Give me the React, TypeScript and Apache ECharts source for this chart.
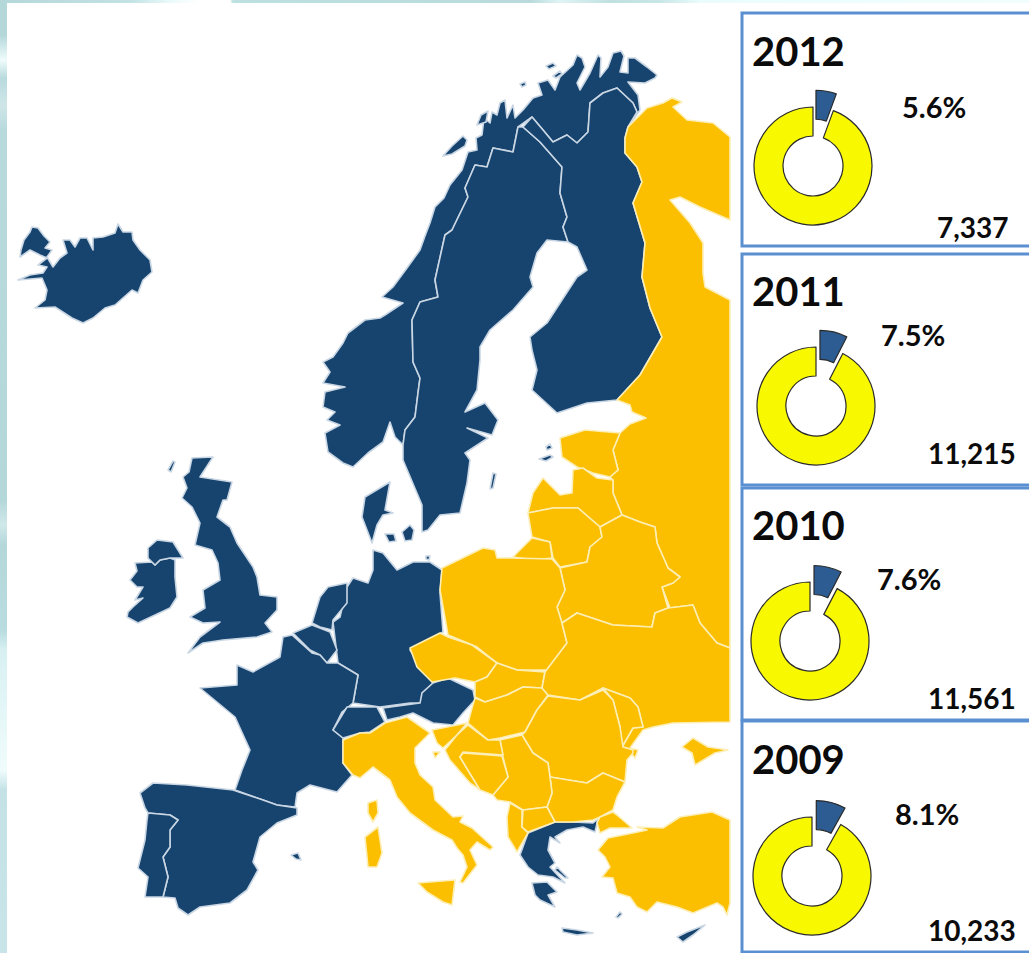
import React, { useEffect, useRef } from "react";
import * as echarts from "echarts";

const years = ["2012", "2011", "2010", "2009"];
const shares = [5.6, 7.5, 7.6, 8.1];
const totals = ["7,337", "11,215", "11,561", "10,233"];

const iceland = "20,257 21,250 24,240 30,232 32,227 38,228 44,236 50,242 45,248 52,250 47,257 53,267 60,258 67,253 63,240 70,240 75,247 80,238 87,238 93,250 93,238 103,237 115,233 118,224 123,232 132,232 133,240 140,250 150,260 152,272 143,280 138,293 132,290 115,305 105,308 93,318 83,323 72,318 55,307 35,308 45,300 47,290 42,278 18,280 30,275 43,273 47,267 38,265 47,258 40,255 30,250";
const norway = "628,82 645,83 655,78 657,75 647,67 635,58 628,58 628,73 620,72 624,56 621,51 613,53 608,67 600,77 601,58 598,55 590,73 580,90 577,83 585,67 582,58 577,55 573,65 560,77 555,90 548,80 538,83 542,95 533,98 523,110 515,118 513,105 507,118 505,100 500,103 497,115 492,112 490,123 484,118 482,135 476,138 477,150 468,152 462,170 450,185 444,198 435,207 430,223 425,236 420,250 407,268 393,287 382,297 403,303 385,315 380,318 365,320 348,333 343,343 333,357 323,362 330,372 323,383 345,387 325,392 323,407 335,412 327,420 340,425 325,433 328,452 343,463 353,467 368,453 383,442 390,422 395,437 403,445 405,430 415,417 418,393 420,378 413,362 412,320 420,302 438,297 435,280 445,235 452,230 468,197 465,188 475,165 487,167 493,148 513,152 518,127 532,117 543,130 553,142 567,135 577,143 588,132 590,103 603,93 617,88 633,103 637,112 628,127 640,110 638,95";
const sweden = "523,127 540,142 562,167 560,193 567,217 563,227 568,242 547,240 537,253 530,277 533,287 513,310 490,330 480,347 480,360 477,390 465,412 485,403 498,420 492,435 467,428 488,438 465,453 470,460 467,483 460,513 440,515 428,530 422,532 422,505 403,460 403,445 405,430 415,417 418,393 420,378 413,362 412,320 420,302 438,297 435,280 445,235 452,230 468,197 465,188 475,165 487,167 493,148 513,152 518,127";
const finland = "523,127 532,117 543,130 553,142 567,135 577,143 588,132 590,103 603,93 617,88 633,103 637,112 628,127 625,138 625,153 637,167 642,182 633,203 645,243 642,277 650,308 662,337 640,375 617,400 587,403 557,413 532,390 537,370 532,350 530,337 547,323 577,277 587,270 577,247 568,242 563,227 567,217 560,193 562,167 540,142";
const denmark = "390,482 385,510 393,513 383,515 377,525 372,543 362,517 365,497";
const zealand = "402,532 410,525 414,530 412,540 405,541";
const funen = "385,534 394,534 396,541 389,542";
const gotland = "493,473 496,474 493,488 490,489";
const saaremaa = "539,459 550,455 553,457 546,461";
const hiiumaa = "546,447 550,444 552,448 547,450";
const bornholm = "426,556 430,556 429,560 426,559";
const russia = "628,127 647,108 663,103 672,98 682,102 673,107 687,120 713,123 730,137 730,220 700,207 680,197 670,200 690,223 703,243 703,273 705,287 730,300 730,648 717,643 700,623 693,605 670,608 662,587 673,583 680,577 668,568 657,543 655,527 640,522 622,515 613,493 613,480 610,477 618,470 613,450 620,433 630,424 646,418 632,412 630,405 617,400 640,375 662,337 650,308 642,277 645,243 633,203 642,182 637,167 625,153 625,138";
const estonia = "560,438 585,430 620,433 613,450 618,470 610,477 593,473 577,467 562,457";
const latvia = "573,470 572,493 560,495 543,478 533,493 528,513 553,508 578,508 600,527 622,515 613,493 613,480 597,478 583,468";
const lithuania = "528,513 532,537 550,542 553,558 560,567 587,562 590,547 602,537 600,527 578,508 553,508";
const kaliningrad = "513,557 532,538 550,542 552,558 533,560";
const belarus = "560,568 587,562 590,547 602,537 600,527 622,515 640,522 655,527 657,543 668,568 680,577 673,583 662,587 668,608 655,613 652,627 613,625 577,613 562,623 557,607 565,590";
const poland = "442,568 483,548 495,550 497,558 511,558 552,559 560,568 565,590 557,607 562,623 567,643 547,670 517,670 497,663 477,647 470,644 448,635 440,590";
const germany = "373,550 373,570 368,583 353,578 347,587 340,617 333,622 338,663 358,675 353,703 380,707 410,703 422,703 422,693 433,683 410,650 443,632 440,593 442,570 430,562 413,562 397,570 383,553";
const netherlands = "328,587 347,583 347,603 333,620 332,630 320,627 312,623 320,597";
const belgium = "293,633 312,625 330,632 337,650 327,663 320,655 310,650";
const france = "283,637 292,635 312,653 320,655 327,663 338,663 358,675 353,703 342,712 333,730 343,738 343,763 352,775 337,792 310,785 297,793 295,807 277,805 263,800 235,790 242,770 250,750 235,717 200,688 237,685 237,665 253,672 280,657";
const switzerland = "333,730 347,707 377,707 385,722 370,732 360,733 343,738";
const austria = "383,708 420,703 422,693 433,683 448,678 473,690 475,700 463,713 453,725 433,723 413,713 400,717 387,720";
const italy = "343,740 360,733 370,733 385,723 407,717 430,733 415,748 415,763 420,775 433,787 435,800 453,817 463,816 460,822 472,828 493,847 490,850 477,842 470,850 477,865 463,883 460,882 467,867 463,855 457,848 452,840 433,830 410,813 397,797 390,780 373,767 360,778 353,775 343,763";
const sicily = "418,883 430,882 455,880 452,905 443,902 427,892";
const sardinia = "365,837 378,827 382,853 377,867 368,867";
const corsica = "368,803 377,800 378,813 373,822 368,813";
const spain = "140,793 153,783 187,785 233,790 263,800 277,805 297,808 297,815 277,823 260,837 253,862 258,870 247,890 230,903 200,907 188,915 178,908 175,898 163,897 168,877 163,857 170,847 170,830 178,820 170,815 148,813 145,808";
const portugal = "148,813 170,815 178,820 170,830 170,847 163,857 168,877 163,897 145,897 148,877 138,868 145,840 147,820";
const majorca = "291,855 298,853 301,860 296,859";
const ireland = "128,612 133,607 143,598 135,600 143,587 137,587 130,580 137,571 135,563 152,562 148,558 155,565 160,560 170,558 175,560 175,577 177,597 170,608 138,623 127,617";
const ulster = "148,548 157,540 173,542 183,558 170,558 160,560 155,565 148,558";
const britain = "192,458 213,457 200,477 232,482 227,500 223,500 217,517 230,527 237,543 253,567 257,577 260,595 277,597 277,610 265,623 272,632 257,637 223,640 203,643 188,653 200,637 220,622 203,623 190,617 205,608 203,590 220,580 218,563 212,550 195,545 200,523 192,507 182,498 187,488 183,477 189,472";
const hebrides = "168,470 173,461 175,462 171,472";
const lofoten = "443,156 452,146 463,136 467,140 465,146 452,154";
const senja = "477,125 481,115 488,111 486,122";
const northIsle1 = "546,66 553,63 556,66 549,69";
const northIsle2 = "553,76 560,71 562,74 556,78";
const northIsle3 = "520,84 525,82 526,85 522,87";
const czechia = "410,648 440,633 448,637 472,645 497,663 487,677 475,682 455,678 432,682 417,667";
const slovakia = "497,663 517,670 545,672 542,688 523,687 507,695 485,702 475,697 475,682 487,677";
const hungary = "475,698 485,702 507,695 523,687 542,688 548,695 537,710 525,732 500,738 488,740 468,723 472,708";
const ukraine = "567,643 562,623 577,613 613,625 652,627 655,613 668,608 693,605 700,623 717,643 730,648 730,722 673,723 653,727 643,730 630,748 638,750 635,758 627,748 622,747 633,728 643,727 638,707 630,698 603,688 580,700 548,695 542,688 545,672";
const crimea = "682,747 693,738 708,747 728,750 715,753 695,765 692,753";
const moldova = "603,688 630,698 638,707 643,727 633,728 622,747 620,727 613,700";
const romania = "548,696 580,700 603,690 613,700 620,727 623,747 633,750 633,753 627,760 625,782 603,773 587,783 550,777 548,763 533,753 522,735 525,732 537,710";
const bulgaria = "550,777 587,783 603,773 625,782 617,797 613,810 600,817 593,820 573,822 555,822 547,807 552,793";
const serbia = "500,740 522,735 533,753 548,763 550,777 552,793 547,807 523,810 510,802 497,800 493,795 508,777 503,757";
const slovenia = "432,730 467,723 457,735 443,748 437,743";
const croatia = "468,725 488,740 500,740 503,755 463,752 460,757 480,790 470,783 450,760 445,750 457,735";
const istria = "433,752 440,752 435,758";
const bosnia = "463,753 502,756 508,777 493,795 480,790 460,757";
const albania = "510,803 522,810 522,827 528,833 517,852 508,837 507,817";
const macedonia = "523,810 547,807 555,822 528,832 522,827";
const greece = "528,833 555,822 573,822 593,823 598,819 595,832 583,827 567,830 555,837 560,843 550,837 548,850 555,863 550,867 565,883 553,877 538,875 528,867 520,855";
const peloponnese = "532,883 547,882 557,892 548,895 555,907 540,900 535,895";
const crete = "562,928 577,930 593,933 577,935 563,932";
const cyprus = "677,937 687,932 705,925 693,935 683,942";
const euboea = "557,867 568,878 565,878 555,870";
const rhodes = "616,917 620,912 622,914 618,918";
const thrace = "600,817 613,812 617,815 632,828 610,828 600,833 597,823";
const anatolia = "598,850 608,838 633,833 647,830 637,827 663,828 680,817 712,812 730,820 730,903 727,915 723,907 717,903 693,913 677,907 657,902 647,912 637,907 630,897 617,893 613,878 602,877 610,867 605,857";

const blueShapes = [iceland, norway, lofoten, senja, northIsle1, northIsle2, northIsle3, sweden, finland, denmark, zealand, funen, gotland, saaremaa, hiiumaa, bornholm, germany, netherlands, belgium, france, switzerland, austria, spain, portugal, majorca, ireland, ulster, britain, hebrides, greece, peloponnese, crete, cyprus, euboea, rhodes];
const orangeShapes = [russia, estonia, latvia, lithuania, kaliningrad, belarus, poland, italy, sicily, sardinia, corsica, czechia, slovakia, hungary, ukraine, crimea, moldova, romania, bulgaria, serbia, slovenia, croatia, istria, bosnia, albania, macedonia, thrace, anatolia];

const W = 1029;
const H = 953;
const BLUE = "#17446f";
const ORANGE = "#fbbf00";
const donutCenters = [[813, 166], [816, 406], [810, 641], [812, 876]];
const yearPos = [[752, 51], [752, 291], [752, 525], [752, 759]];
const sharePos = [[902, 106], [881, 334], [877, 578], [895, 813]];
const totalPos = [[937, 227], [928, 453], [928, 698], [928, 930]];
const boxes = [[742, 13, 300, 233], [742, 254, 300, 231], [742, 488, 300, 232], [742, 721, 300, 231]];
const leftGlow = [[0, "#b4d7da"], [35, "#b4d7da"], [60, "#f0fcfc"], [78, "#b8dadd"], [105, "#cfe6e8"], [130, "#b8dadd"], [500, "#b4d7da"], [525, "#d0e8ea"], [545, "#b4d7da"], [630, "#b8dcdf"], [650, "#d8f0f2"], [770, "#f0fcfc"], [790, "#c4e2e6"], [953, "#c8e4e8"]];
const topGlow = [[0, "#b4d7da"], [130, "#c2e2e4"], [170, "#eafafa"], [200, "#ffffff"], [230, "#ffffff"], [233, "#bde0e0"], [530, "#b8dadc"], [560, "#e0f4f4"], [610, "#c0e0e0"], [660, "#c8e6e6"], [700, "#eafcfc"], [1029, "#f2fefe"]];

const parse = (s: string) => s.split(" ").map((p) => p.split(",").map(Number));

const shapes = [
  ...blueShapes.map((s) => ({ pts: parse(s), fill: BLUE, stroke: "#c9d6e3" })),
  ...orangeShapes.map((s) => ({ pts: parse(s), fill: ORANGE, stroke: "#fdeeb5" })),
];

export default function App() {
  const ref = useRef<HTMLDivElement>(null);
  useEffect(() => {
    const chart = echarts.init(ref.current!, null, { renderer: "svg" });
    const font = "Lato, 'Open Sans', sans-serif";
    const text = (t: string, p: number[], size: number) => ({
      type: "text",
      x: p[0],
      y: p[1],
      z: 20,
      style: { text: t, font: `bold ${size}px ${font}`, fill: "#0b0b0b", verticalAlign: "middle" },
    });
    const stops = (list: any[], span: number) => list.map(([at, color]) => ({ offset: at / span, color }));
    chart.setOption({
      animation: false,
      backgroundColor: "#ffffff",
      grid: { left: 0, right: 0, top: 0, bottom: 0 },
      xAxis: { type: "value", min: 0, max: W, show: false },
      yAxis: { type: "value", min: 0, max: H, inverse: true, show: false },
      graphic: [
        { type: "rect", z: 0, shape: { x: 0, y: 0, width: 7, height: H }, style: { fill: new echarts.graphic.LinearGradient(0, 0, 0, 1, stops(leftGlow, H)) } },
        { type: "rect", z: 0, shape: { x: 0, y: 0, width: W, height: 3 }, style: { fill: new echarts.graphic.LinearGradient(0, 0, 1, 0, stops(topGlow, W)) } },
        ...boxes.map((b) => ({
          type: "rect",
          z: 1,
          shape: { x: b[0], y: b[1], width: b[2], height: b[3] },
          style: { fill: "#ffffff", stroke: "#5a8fd2", lineWidth: 3 },
        })),
        ...years.map((y, i) => text(y, yearPos[i], 40)),
        ...shares.map((s, i) => text(s.toFixed(1) + "%", sharePos[i], 29)),
        ...totals.map((t, i) => text(t, totalPos[i], 28)),
      ],
      series: [
        {
          type: "custom",
          coordinateSystem: "cartesian2d",
          silent: true,
          clip: false,
          z: 3,
          data: shapes.map((_, i) => [i, 0]),
          renderItem: (params: any, api: any) => {
            const s = shapes[params.dataIndex];
            return {
              type: "polygon",
              shape: { points: s.pts.map((p) => api.coord(p)) },
              style: { fill: s.fill, stroke: s.stroke, lineWidth: 1.6, lineJoin: "round" },
            };
          },
        },
        ...shares.map((s, i) => ({
          type: "pie",
          silent: true,
          z: 5,
          center: donutCenters[i],
          radius: [30, 59],
          startAngle: 90,
          clockwise: true,
          selectedMode: "single",
          selectedOffset: 17,
          label: { show: false },
          labelLine: { show: false },
          itemStyle: { borderColor: "#2a2a2a", borderWidth: 1.2 },
          data: [
            { value: s, selected: true, itemStyle: { color: "#2c5c91" } },
            { value: 100 - s, itemStyle: { color: "#f8f800" } },
          ],
        })),
      ],
    });
    return () => chart.dispose();
  }, []);
  return <div ref={ref} style={{ position: "absolute", left: 0, top: 0, width: W, height: H }} />;
}
